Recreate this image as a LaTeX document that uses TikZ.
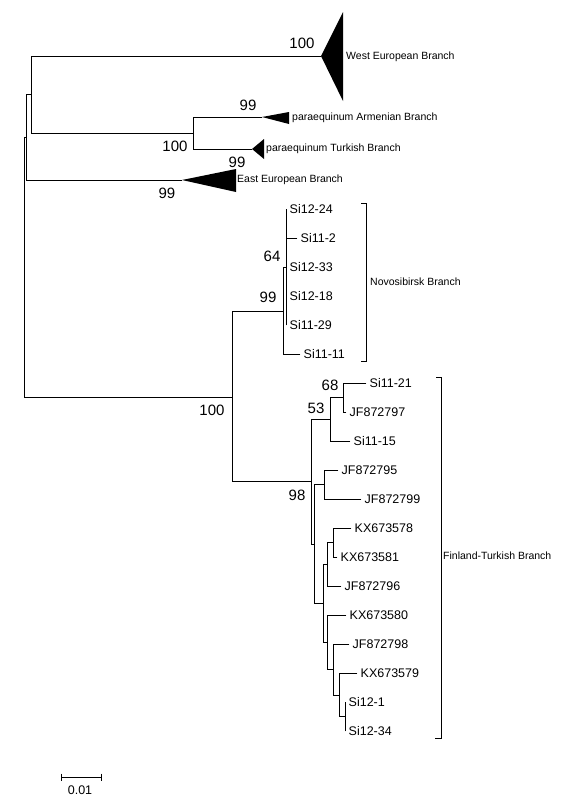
\documentclass[tikz,border=0pt]{standalone}
\usepackage{fontspec}
\setmainfont{Liberation Sans}

\begin{document}
\begin{tikzpicture}[
		x=1pt, y=-1pt,
		% Define styles
		branch/.style={line width=0.9pt, line cap=rect},
		clade/.style={fill=black},
		leaf/.style={anchor=west, inner xsep=3.5pt, inner ysep=0pt, text height=9pt, text depth=0pt, font=\fontsize{12.5}{14}\selectfont},
		group/.style={anchor=west, inner xsep=2pt, inner ysep=0pt, text height=7.5pt, text depth=0pt, font=\fontsize{10.5}{12}\selectfont},
		boot/.style={inner sep=0pt, font=\fontsize{15}{17}\selectfont},
		bracket/.style={line width=0.9pt}
		]
		
		\useasboundingbox (0,0) rectangle (568,803);
		
		% Internal nodes
		\coordinate (root) at (24,267);
		\coordinate (nB) at (26,137.5);
		\coordinate (nC) at (31,94.5);
		\coordinate (para) at (193,133);
		\coordinate (lower) at (232,397);
		\coordinate (novo1) at (283,311.5);
		\coordinate (novo2) at (286,267);
		\coordinate (fin98) at (311,481.5);
		\coordinate (fin53) at (330,419);
		\coordinate (fin68) at (343,397.5);
		\coordinate (finP) at (314,544);
		\coordinate (fin795) at (324,484.5);
		\coordinate (finS) at (323,603);
		\coordinate (finT) at (327,564);
		\coordinate (finW) at (333,542.5);
		\coordinate (finU) at (327,642);
		\coordinate (finV) at (333,669.5);
		\coordinate (finR) at (339,695);
		\coordinate (finQ) at (345,716.5);
		
		% Collapsed branches
		\coordinate (west) at (321,56);
		\coordinate (arm) at (262,117);
		\coordinate (turk) at (252,149);
		\coordinate (east) at (182,180);
		\fill [clade] (west) -- ++(22,-44) -- ++(0,89) -- cycle;
		\fill [clade] (arm) -- ++(27,-5) -- ++(0,12) -- cycle;
		\fill [clade] (turk) -- ++(12,-10) -- ++(0,20) -- cycle;
		\fill [clade] (east) -- ++(54,-11) -- ++(0,23) -- cycle;
		\node (west-lbl) [group] at (344,56) {West European Branch};
		\node (arm-lbl) [group] at (290,117) {paraequinum Armenian Branch};
		\node (turk-lbl) [group] at (264,148) {paraequinum Turkish Branch};
		\node (east-lbl) [group] at (235,179) {East European Branch};
		
		% Novosibirsk leaves
		\node (si1224) [leaf] at (286,209) {Si12-24};
		\node (si112) [leaf] at (297,238) {Si11-2};
		\node (si1233) [leaf] at (286,267) {Si12-33};
		\node (si1218) [leaf] at (286,296) {Si12-18};
		\node (si1129) [leaf] at (286,325) {Si11-29};
		\node (si1111) [leaf] at (300,354) {Si11-11};
		
		% Finland-Turkish leaves
		\node (si1121) [leaf] at (366,383) {Si11-21};
		\node (jf797) [leaf] at (346,412) {JF872797};
		\node (si1115) [leaf] at (350,441) {Si11-15};
		\node (jf795) [leaf] at (338,470) {JF872795};
		\node (jf799) [leaf] at (361,499) {JF872799};
		\node (kx578) [leaf] at (351,528) {KX673578};
		\node (kx581) [leaf] at (337,557) {KX673581};
		\node (jf796) [leaf] at (341,586) {JF872796};
		\node (kx580) [leaf] at (346,615) {KX673580};
		\node (jf798) [leaf] at (349,644) {JF872798};
		\node (kx579) [leaf] at (357,673) {KX673579};
		\node (si121) [leaf] at (345,702) {Si12-1};
		\node (si1234) [leaf] at (345,731) {Si12-34};
		
		% Draw branches
		\draw [branch] (root) |- (nB);
		\draw [branch] (root) |- (lower);
		\draw [branch] (nB) |- (nC);
		\draw [branch] (nB) |- (east);
		\draw [branch] (nC) |- (west);
		\draw [branch] (nC) |- (para);
		\draw [branch] (para) |- (arm);
		\draw [branch] (para) |- (turk);
		\draw [branch] (lower) |- (novo1);
		\draw [branch] (lower) |- (fin98);
		\draw [branch] (novo1) |- (novo2);
		\draw [branch] (novo1) |- (si1111.west);
		\draw [branch] (novo2) |- (si1224.west);
		\draw [branch] (novo2) |- (si112.west);
		\draw [branch] (novo2) |- (si1233.west);
		\draw [branch] (novo2) |- (si1218.west);
		\draw [branch] (novo2) |- (si1129.west);
		\draw [branch] (fin98) |- (fin53);
		\draw [branch] (fin98) |- (finP);
		\draw [branch] (fin53) |- (fin68);
		\draw [branch] (fin53) |- (si1115.west);
		\draw [branch] (fin68) |- (si1121.west);
		\draw [branch] (fin68) |- (jf797.west);
		\draw [branch] (finP) |- (fin795);
		\draw [branch] (finP) |- (finS);
		\draw [branch] (fin795) |- (jf795.west);
		\draw [branch] (fin795) |- (jf799.west);
		\draw [branch] (finS) |- (finT);
		\draw [branch] (finS) |- (finU);
		\draw [branch] (finT) |- (finW);
		\draw [branch] (finT) |- (jf796.west);
		\draw [branch] (finW) |- (kx578.west);
		\draw [branch] (finW) |- (kx581.west);
		\draw [branch] (finU) |- (kx580.west);
		\draw [branch] (finU) |- (finV);
		\draw [branch] (finV) |- (jf798.west);
		\draw [branch] (finV) |- (finR);
		\draw [branch] (finR) |- (kx579.west);
		\draw [branch] (finR) |- (finQ);
		\draw [branch] (finQ) |- (si121.west);
		\draw [branch] (finQ) |- (si1234.west);
		
		% Bootstrap values
		\node (bs-west) [boot] at (302,43) {100};
		\node (bs-arm) [boot] at (248,105) {99};
		\node (bs-para) [boot] at (175,146) {100};
		\node (bs-turk) [boot] at (237,162) {99};
		\node (bs-east) [boot] at (167,193) {99};
		\node (bs-novo2) [boot] at (272,256) {64};
		\node (bs-novo1) [boot] at (268,297) {99};
		\node (bs-lower) [boot] at (212,410) {100};
		\node (bs-68) [boot] at (330,385) {68};
		\node (bs-53) [boot] at (316,408) {53};
		\node (bs-98) [boot] at (297,495) {98};
		
		% Brackets
		\coordinate (novo-top) at (366,203);
		\coordinate (novo-bot) at (366,361);
		\coordinate (fin-top) at (441,377);
		\coordinate (fin-bot) at (441,738);
		\draw [bracket] (novo-top) ++(-5,0) -- (novo-top) -- (novo-bot) -- ++(-5,0);
		\draw [bracket] (fin-top) ++(-5,0) -- (fin-top) -- (fin-bot) -- ++(-6,0);
		\node (novo-lbl) [group] at (368,282) {Novosibirsk Branch};
		\node (fin-lbl) [group] at (441,556) {Finland-Turkish Branch};
		
		% Scale bar
		\coordinate (sb-l) at (61,777);
		\coordinate (sb-r) at (101,777);
		\draw [bracket] (sb-l) -- (sb-r);
		\draw [bracket] (sb-l) ++(0,-3.5) -- ++(0,7);
		\draw [bracket] (sb-r) ++(0,-3.5) -- ++(0,7);
		\node (sb-lbl) [inner sep=0pt, font=\fontsize{12.5}{14}\selectfont] at (80,790) {0.01};
		
	\end{tikzpicture}
\end{document}
